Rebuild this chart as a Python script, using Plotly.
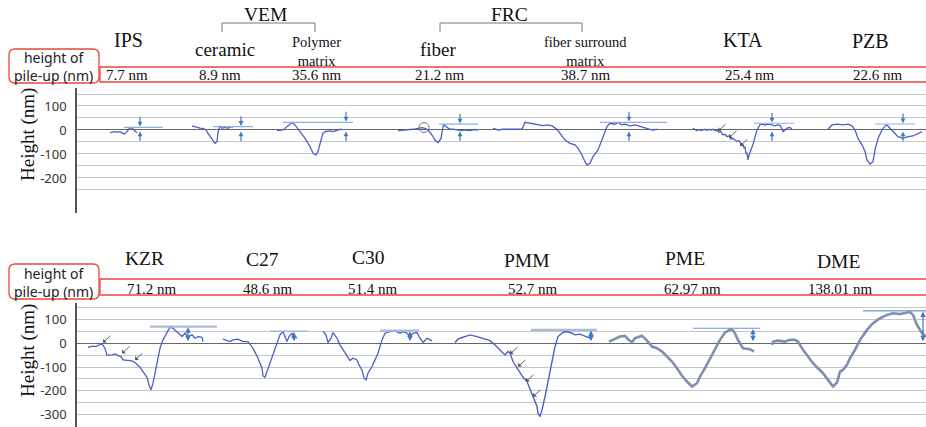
import plotly.graph_objects as go

# ---------------- data (lateral position, height in nm) ----------------
# top panel
ips_x = [33, 36, 38, 41, 43, 45, 47, 49, 50, 52, 53, 55, 56, 58, 60]
ips_y = [-11, -9, -7, -9, -7, -12, -17, -12, -7, 3, 10, 8, 3, -4, -12]
ceramic_x = [115, 118, 120, 123, 126, 129, 131, 134, 136, 138, 140, 141, 143, 145, 148, 151, 153, 155, 156]
ceramic_y = [17, 13, 10, 8, 7, 0, -14, -30, -42, -56, -49, -10, 17, 7, 11, 7, 12, 14, 11]
polymer_x = [200, 206, 210, 215, 218, 223, 228, 233, 236, 239, 241, 244, 246, 248, 253, 256, 260, 263, 265]
polymer_y = [-3, 0, 14, 31, 21, -7, -35, -69, -97, -104, -90, -42, -14, -7, -4, -7, -3, 3, 1]
fiber_x = [321, 330, 336, 341, 345, 348, 351, 355, 358, 361, 364, 366, 367, 370, 373, 376, 380, 385, 388, 393, 397, 401]
fiber_y = [-3, -1, 3, 7, 10, 7, 0, -21, -42, -53, -35, 14, 21, 11, 3, 3, 0, -3, 0, -3, 2, 0]
fsm_x = [416, 421, 426, 433, 440, 445, 448, 453, 460, 466, 471, 475, 480, 483, 488, 493, 498, 501, 505, 508,
         510, 513, 516, 521, 526, 530, 533, 538, 541, 545, 548, 553, 558, 563, 568, 573, 576, 580]
fsm_y = [7, 0, 3, 3, 3, 3, 32, 28, 24, 18, 21, 17, 3, -14, -42, -56, -62, -76, -104, -132,
         -146, -139, -111, -83, -28, 14, 28, 24, 31, 22, 24, 17, 21, 14, 10, 3, 0, 4]
kta_x = [616, 618, 620, 622, 624, 626, 628, 630, 632, 634, 636, 638, 640, 642, 644, 646, 648, 650, 652, 654,
         656, 658, 660, 662, 664, 666, 667, 668, 669, 670, 671, 672, 674, 676, 678, 680, 683, 686, 688, 690,
         693, 696, 698, 700, 703, 705, 706, 708, 710, 713, 715]
kta_y = [7, 3, -3, 2, -2, 0, 3, -1, 2, 0, 3, -2, -3, -10, -8, -20, -18, -28, -25, -38,
         -35, -42, -47, -45, -56, -60, -75, -70, -100, -95, -125, -105, -85, -60, -30, 0, 22, 24, 20, 24,
         23, 18, 17, 21, 19, 5, -7, 0, 8, 11, 3]
pzb_x = [751, 755, 760, 766, 771, 775, 778, 781, 785, 788, 790, 793, 796, 798, 801, 805, 808, 810, 813, 816,
         821, 826, 831, 836, 841, 845]
pzb_y = [3, 21, 24, 21, 24, 17, 0, -35, -62, -90, -125, -142, -132, -83, -35, 0, 17, 21, 7, -7,
         -28, -35, -28, -25, -14, -7]

top_names = ["IPS", "ceramic", "Polymer<br>matrix", "fiber", "fiber surround<br>matrix", "KTA", "PZB"]
top_values = ["7.7 nm", "8.9 nm", "35.6 nm", "21.2 nm", "38.7 nm", "25.4 nm", "22.6 nm"]
top_ref_x0 = [47, 136, 206, 362, 523, 677, 798]
top_ref_x1 = [86, 176, 276, 401, 590, 717, 838]
top_ref_y = [11, 14, 32, 24, 32, 28, 25]
top_arrow_x = [63, 164, 269, 383, 552, 695, 826]
kta_step_x = [641, 652, 663]
kta_step_y = [-4, -32, -67]
fiber_mark_x = [347]
fiber_mark_y = [10]

# bottom panel
kzr_x = [11, 15, 18, 21, 25, 28, 30, 35, 38, 41, 44, 46, 51, 55, 58, 63, 66, 70, 72, 74, 76, 78, 80, 83, 86,
         90, 93, 96, 100, 103, 105, 108, 111, 115, 118, 121, 125, 126]
kzr_y = [-17, -12, -14, -9, -3, -21, -50, -49, -45, -52, -56, -70, -73, -74, -81, -101, -119, -143, -175, -196,
         -168, -126, -70, -21, 14, 45, 67, 63, 49, 35, 28, 42, 28, 35, 21, 28, 25, 7]
c27_x = [146, 150, 153, 156, 161, 166, 171, 176, 181, 185, 186, 188, 190, 193, 196, 200, 203, 206, 208, 210,
         212, 215, 217, 220]
c27_y = [17, 10, 7, 14, 17, 7, 7, -21, -63, -105, -137, -143, -119, -77, -42, 0, 35, 49, 28, 7,
         28, 42, 28, 21]
c30_x = [246, 249, 251, 254, 256, 260, 263, 266, 270, 273, 276, 280, 282, 285, 287, 289, 291, 295, 298, 301,
         305, 308, 313, 318, 323, 326, 330, 333, 336, 340, 343, 346, 350, 353, 355]
c30_y = [49, 35, 3, 21, 45, 21, -7, -28, -53, -73, -63, -70, -91, -112, -147, -154, -126, -98, -70, -42,
         14, 42, 49, 52, 42, 49, 42, 28, 42, 45, 21, 3, 21, 14, 10]
pmm_x = [378, 381, 383, 388, 393, 400, 406, 413, 418, 423, 428, 431, 433, 436, 440, 443, 446, 450, 453, 456,
         460, 461, 463, 465, 468, 471, 475, 478, 481, 486, 490, 495, 498, 503, 508, 513]
pmm_y = [3, 17, 21, 28, 35, 28, 21, 11, -7, -28, -49, -35, -42, -77, -105, -126, -143, -161, -189, -224,
         -266, -294, -308, -280, -224, -154, -77, -14, 28, 45, 49, 42, 35, 38, 28, 21]
pme_x = [532, 538, 543, 548, 551, 555, 558, 565, 570, 575, 580, 585, 590, 595, 600, 605, 610, 615, 620, 623,
         628, 633, 638, 643, 648, 654, 657, 661, 666, 670, 673, 677]
pme_y = [7, 17, 28, 31, 17, 4, 21, 31, 11, -14, -21, -35, -56, -77, -105, -137, -161, -182, -168, -140,
         -105, -63, -21, 14, 45, 59, 49, 14, -21, -25, -25, -35]
dme_x = [695, 696, 701, 708, 713, 718, 721, 726, 731, 736, 741, 746, 751, 756, 760, 763, 766, 770, 773, 778,
         783, 790, 796, 803, 810, 816, 823, 830, 833, 836, 840, 845, 849]
dme_y = [-7, 7, 11, 7, 14, 14, 7, -28, -56, -84, -105, -126, -154, -182, -165, -119, -112, -91, -63, -28,
         14, 56, 84, 105, 119, 126, 123, 129, 131, 119, 77, 42, 28]

bot_names = ["KZR", "C27", "C30", "PMM", "PME", "DME"]
bot_values = ["71.2 nm", "48.6 nm", "51.4 nm", "52.7 nm", "62.97 nm", "138.01 nm"]
bot_ref_x0 = [73, 193, 303, 454, 616, 786]
bot_ref_x1 = [140, 231, 342, 520, 683, 852]
bot_ref_y = [70, 50, 53, 56, 63, 136]
bot_arrow_x = [111, 217, 333, 514, 676, 846]
kzr_step_x = [26, 45, 58]
kzr_step_y = [3, -42, -70]
pmm_step_x = [433, 441, 449, 456]
pmm_step_y = [-45, -98, -161, -224]

top_ticks = [-250, -200, -150, -100, -50, 0, 50, 100, 150]
bot_ticks = [-350, -300, -250, -200, -150, -100, -50, 0, 50, 100, 150]
labelled = [100, 0, -100, -200, -300]

# ---------------- layout helpers ----------------
W, H, L = 926, 427, 77
PW = W - L


def PX(x):
    return (x - L) / PW


def PY(y):
    return 1 - y / H


SERIF = "Liberation Serif"
SANS = "Noto Sans"
BLUE = "#4d5ec3"
GREY_BLUE = "#7f8fb0"
ARROW_BLUE = "#3f78c8"
RED = "#e8473c"

fig = go.Figure()

top_profiles = [(ips_x, ips_y), (ceramic_x, ceramic_y), (polymer_x, polymer_y), (fiber_x, fiber_y),
                (fsm_x, fsm_y), (kta_x, kta_y), (pzb_x, pzb_y)]
for px_, py_ in top_profiles:
    fig.add_trace(go.Scatter(x=px_, y=py_, mode="lines", line=dict(color=BLUE, width=1.3),
                             xaxis="x", yaxis="y", showlegend=False, hoverinfo="skip"))

bot_profiles = [(kzr_x, kzr_y, BLUE, 1.3), (c27_x, c27_y, BLUE, 1.3), (c30_x, c30_y, BLUE, 1.3),
                (pmm_x, pmm_y, BLUE, 1.4), (pme_x, pme_y, GREY_BLUE, 2.6), (dme_x, dme_y, GREY_BLUE, 2.6)]
for px_, py_, col, w in bot_profiles:
    fig.add_trace(go.Scatter(x=px_, y=py_, mode="lines", line=dict(color=col, width=w),
                             xaxis="x2", yaxis="y2", showlegend=False, hoverinfo="skip"))

# pile-up reference lines
for x0, x1, y in zip(top_ref_x0, top_ref_x1, top_ref_y):
    fig.add_trace(go.Scatter(x=[x0, x1], y=[y, y], mode="lines", line=dict(color="#8fb0df", width=1.2),
                             xaxis="x", yaxis="y", showlegend=False, hoverinfo="skip"))
bot_ref_w = [2.2, 1.6, 2.2, 2.2, 1.1, 1.1]
bot_ref_c = ["#aabdd8", "#9fb5da", "#aabdd8", "#aabdd8", "#6f95d6", "#6f95d6"]
for x0, x1, y, w, c in zip(bot_ref_x0, bot_ref_x1, bot_ref_y, bot_ref_w, bot_ref_c):
    fig.add_trace(go.Scatter(x=[x0, x1], y=[y, y], mode="lines", line=dict(color=c, width=w),
                             xaxis="x2", yaxis="y2", showlegend=False, hoverinfo="skip"))

# fiber circle marker
fig.add_trace(go.Scatter(x=fiber_mark_x, y=fiber_mark_y, mode="markers",
                         marker=dict(symbol="circle-open", size=10, color="#777", line=dict(width=1)),
                         xaxis="x", yaxis="y", showlegend=False, hoverinfo="skip"))

annotations = []

# pile-up arrows, top (outside dimension arrows)
for ax_, ry in zip(top_arrow_x, top_ref_y):
    annotations.append(dict(x=ax_, y=ry + 3, ax=ax_, ay=ry + 50, xref="x", yref="y", axref="x", ayref="y",
                            showarrow=True, arrowhead=2, arrowsize=0.8, arrowwidth=1.2, arrowcolor=ARROW_BLUE, text=""))
    annotations.append(dict(x=ax_, y=-6, ax=ax_, ay=-52, xref="x", yref="y", axref="x", ayref="y",
                            showarrow=True, arrowhead=2, arrowsize=0.8, arrowwidth=1.2, arrowcolor=ARROW_BLUE, text=""))
# double arrows bottom
for ax_, ry in zip(bot_arrow_x, bot_ref_y):
    annotations.append(dict(x=ax_, y=ry - 3, ax=ax_, ay=2, xref="x2", yref="y2", axref="x2", ayref="y2",
                            showarrow=True, arrowhead=2, startarrowhead=2, arrowside="end+start",
                            arrowsize=0.9, startarrowsize=0.9, arrowwidth=1.2, arrowcolor=ARROW_BLUE, text=""))

# step arrows
for sx, sy in zip(kta_step_x, kta_step_y):
    annotations.append(dict(x=sx, y=sy, ax=9, ay=-8, xref="x", yref="y", showarrow=True, arrowhead=1,
                            arrowsize=1, arrowwidth=0.9, arrowcolor="#555", text=""))
for sx, sy in list(zip(kzr_step_x, kzr_step_y)) + list(zip(pmm_step_x, pmm_step_y)):
    annotations.append(dict(x=sx, y=sy, ax=9, ay=-8, xref="x2", yref="y2", showarrow=True, arrowhead=1,
                            arrowsize=1, arrowwidth=0.9, arrowcolor="#555", text=""))

# sample labels
top_name_pos = [(128, 40, 20), (225, 49, 19), (316, 51, 14.5), (438, 49, 19), (585, 51, 14.5), (743, 40, 20),
                (870, 41, 20)]
for name, (x, y, s) in zip(top_names, top_name_pos):
    annotations.append(dict(x=PX(x), y=PY(y), xref="paper", yref="paper", text=name, showarrow=False,
                            font=dict(family=SERIF, size=s, color="#111"), xanchor="center", yanchor="middle"))
top_val_x = [127, 220, 317, 440, 586, 750, 878]
for v, x in zip(top_values, top_val_x):
    annotations.append(dict(x=PX(x), y=PY(75), xref="paper", yref="paper", text=v, showarrow=False,
                            font=dict(family=SERIF, size=15, color="#111"), xanchor="center", yanchor="middle"))
bot_name_pos = [(144, 258), (262, 259), (368, 257), (527, 260), (685, 258), (838, 261)]
for name, (x, y) in zip(bot_names, bot_name_pos):
    annotations.append(dict(x=PX(x), y=PY(y), xref="paper", yref="paper", text=name, showarrow=False,
                            font=dict(family=SERIF, size=19.5, color="#111"), xanchor="center", yanchor="middle"))
bot_val_x = [152, 268, 373, 533, 692, 840]
for v, x in zip(bot_values, bot_val_x):
    annotations.append(dict(x=PX(x), y=PY(289), xref="paper", yref="paper", text=v, showarrow=False,
                            font=dict(family=SERIF, size=15, color="#111"), xanchor="center", yanchor="middle"))

# group labels
for t, x in [("VEM", 265), ("FRC", 510)]:
    annotations.append(dict(x=PX(x), y=PY(14), xref="paper", yref="paper", text=t, showarrow=False,
                            font=dict(family=SERIF, size=19.5, color="#111"), xanchor="center", yanchor="middle"))

# pile-up box labels
for yc in (67, 282):
    annotations.append(dict(x=PX(53), y=PY(yc), xref="paper", yref="paper", text="height of<br>pile-up (nm)",
                            showarrow=False, font=dict(family=SANS, size=14, color="#222"),
                            xanchor="center", yanchor="middle"))

# axis titles
for yc in (135, 351):
    annotations.append(dict(x=PX(28), y=PY(yc), xref="paper", yref="paper", text="Height (nm)",
                            showarrow=False, textangle=-90, font=dict(family=SERIF, size=19, color="#111"),
                            xanchor="center", yanchor="middle"))

shapes = []


def P(x, y):
    return f"{PX(x):.5f},{PY(y):.5f}"


def rounded(x0, y0, x1, y1, r):
    return (f"M {P(x0 + r, y0)} L {P(x1 - r, y0)} Q {P(x1, y0)} {P(x1, y0 + r)} L {P(x1, y1 - r)} "
            f"Q {P(x1, y1)} {P(x1 - r, y1)} L {P(x0 + r, y1)} Q {P(x0, y1)} {P(x0, y1 - r)} "
            f"L {P(x0, y0 + r)} Q {P(x0, y0)} {P(x0 + r, y0)} Z")


for (by0, by1, ry0, ry1) in [(49, 83, 67, 82), (264, 299, 279, 295)]:
    shapes.append(dict(type="path", path=rounded(9, by0, 99, by1, 6), xref="paper", yref="paper",
                       line=dict(color=RED, width=1.3)))
    shapes.append(dict(type="rect", x0=PX(100), x1=PX(935), y0=PY(ry0), y1=PY(ry1), xref="paper", yref="paper",
                       line=dict(color=RED, width=1.3)))

# brackets
for bx0, bx1 in [(222, 315), (440, 582)]:
    for seg in [(bx0, 23, bx1, 23), (bx0, 23, bx0, 32), (bx1, 23, bx1, 32)]:
        shapes.append(dict(type="line", x0=PX(seg[0]), y0=PY(seg[1]), x1=PX(seg[2]), y1=PY(seg[3]),
                           xref="paper", yref="paper", line=dict(color="#777", width=1)))

yaxis_common = dict(showgrid=True, gridcolor="#c6c6c6", gridwidth=1.2, zeroline=True, zerolinecolor="#666",
                    zerolinewidth=1.3, showline=True, linecolor="#555", linewidth=1.5, ticks="",
                    tickfont=dict(family=SANS, size=13, color="#333"), ticklabelstandoff=6, fixedrange=True)

fig.update_layout(
    width=W, height=H, margin=dict(l=L, r=0, t=0, b=0),
    paper_bgcolor="white", plot_bgcolor="white", showlegend=False,
    xaxis=dict(range=[0, PW], visible=False, domain=[0, 1], anchor="y"),
    xaxis2=dict(range=[0, PW], visible=False, domain=[0, 1], anchor="y2", matches="x"),
    yaxis=dict(domain=[0.5012, 0.7939], range=[-346, 175], tickvals=top_ticks,
               ticktext=[str(t) if t in labelled else "" for t in top_ticks], anchor="x", **yaxis_common),
    yaxis2=dict(domain=[0, 0.2904], range=[-352, 169], tickvals=bot_ticks,
                ticktext=[str(t) if t in labelled else "" for t in bot_ticks], anchor="x2", **yaxis_common),
    annotations=annotations, shapes=shapes,
)

fig.write_html("out.html")
